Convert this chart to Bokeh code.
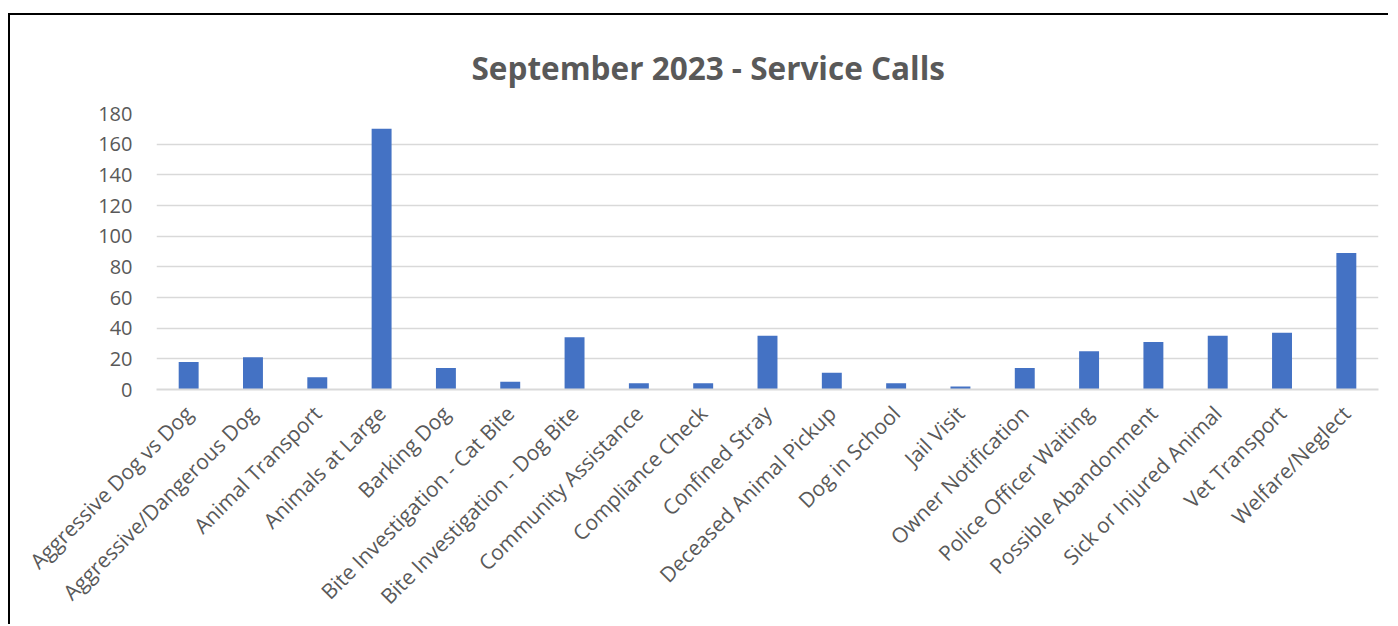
import math
from bokeh.plotting import figure
from bokeh.models import FactorRange, Range1d, SingleIntervalTicker, Title, ColumnDataSource
from bokeh.embed import file_html
from bokeh.resources import INLINE

categories = [
    "Aggressive Dog vs Dog", "Aggressive/Dangerous Dog", "Animal Transport",
    "Animals at Large", "Barking Dog", "Bite Investigation - Cat Bite",
    "Bite Investigation - Dog Bite", "Community Assistance", "Compliance Check",
    "Confined Stray", "Deceased Animal Pickup", "Dog in School", "Jail Visit",
    "Owner Notification", "Police Officer Waiting", "Possible Abandonment",
    "Sick or Injured Animal", "Vet Transport", "Welfare/Neglect",
]
calls = [18, 21, 8, 170, 14, 5, 34, 4, 4, 35, 11, 4, 2, 14, 25, 31, 35, 37, 89]
title_text = "September 2023 - Service Calls"

FONT = "Open Sans"
GREY = "#595959"

source = ColumnDataSource(dict(cat=categories, val=calls))

p = figure(
    x_range=FactorRange(*categories),
    y_range=Range1d(0, 180),
    width=1380, height=611,
    min_border_left=146, min_border_right=12,
    min_border_top=98, min_border_bottom=237,
    output_backend="svg", toolbar_location=None,
)
p.styles = {"border-left": "2px solid black", "border-top": "2px solid black",
            "margin-top": "13px", "margin-left": "8px"}

p.vbar(x="cat", top="val", width=0.31, source=source, fill_color="#4472C4", line_color=None)

p.title = Title(text=title_text, align="left", offset=315, standoff=45,
                vertical_align="top",
                text_font=FONT, text_font_size="31.5px", text_font_style="bold",
                text_color=GREY)

p.outline_line_color = None
p.xgrid.grid_line_color = None
p.ygrid.grid_line_color = "#d9d9d9"
p.ygrid.grid_line_width = 1.5
p.yaxis.ticker = SingleIntervalTicker(interval=20)
p.yaxis.axis_line_color = None
p.yaxis.major_tick_line_color = None
p.yaxis.minor_tick_line_color = None
p.yaxis.major_label_standoff = 18
p.yaxis.major_label_text_font = FONT
p.yaxis.major_label_text_font_size = "20px"
p.yaxis.major_label_text_color = GREY

p.xaxis.axis_line_color = "#d9d9d9"
p.xaxis.axis_line_width = 2
p.xaxis.major_tick_line_color = None
p.xaxis.minor_tick_line_color = None
p.xaxis.major_label_orientation = math.pi / 4
p.xaxis.major_label_standoff = 14
p.xaxis.major_label_text_font = FONT
p.xaxis.major_label_text_font_size = "21px"
p.xaxis.major_label_text_color = GREY

open("out.html", "w").write(file_html(p, INLINE))
